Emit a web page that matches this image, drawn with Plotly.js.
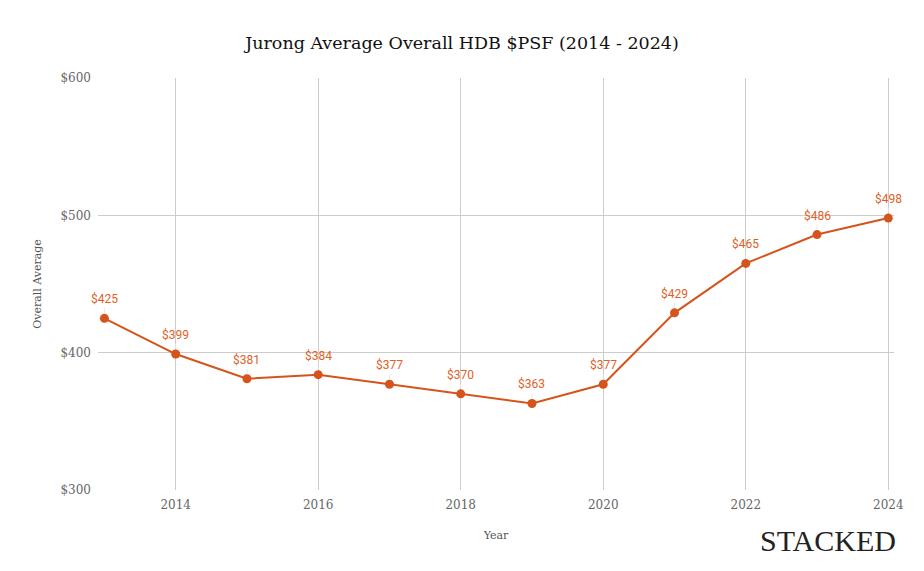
<!DOCTYPE html>
<html><head><meta charset="utf-8">
<script src="https://cdn.plot.ly/plotly-3.0.1.min.js"></script>
<style>body{margin:0;background:#fff}#c{width:924px;height:571px}</style>
</head><body><div id="c"></div>
<script>
const years = [2013,2014,2015,2016,2017,2018,2019,2020,2021,2022,2023,2024];
const psf = [425,399,381,384,377,370,363,377,429,465,486,498];
const yTicks = [300,400,500,600];
const yTickText = ['$300','$400','$500','$600'];
const xTicks = [2014,2016,2018,2020,2022,2024];

const lineColor = '#d4541c';
const tickFont = {family:'DejaVu Serif', size:12, color:'#666'};

const annotations = years.map((y,i)=>({
  x:y, y:psf[i], xref:'x', yref:'y', text:'$'+psf[i],
  showarrow:true, arrowhead:0, arrowwidth:1, arrowcolor:'#e6e6e6',
  ax:0, ay:-10, standoff:5, yanchor:'bottom',
  font:{family:'Roboto', size:12, color:'#e0621f'}
}));
annotations.push({xref:'paper', yref:'paper', x:1.005, y:-0.078, xanchor:'right', yanchor:'top',
  text:'STACKED', showarrow:false, font:{family:'Liberation Serif', size:30, color:'#222'}});

Plotly.newPlot('c',[{
  x:years, y:psf, type:'scatter', mode:'lines+markers',
  line:{color:lineColor, width:2}, marker:{color:lineColor, size:9},
  hoverinfo:'skip'
}],{
  width:924, height:571,
  margin:{l:98, r:30, t:78, b:81},
  paper_bgcolor:'#fff', plot_bgcolor:'#fff',
  title:{text:'Jurong Average Overall HDB $PSF (2014 - 2024)', x:0.5, xanchor:'center', y:0.935,
    font:{family:'DejaVu Serif', size:17.5, color:'#111'}},
  xaxis:{range:[2012.91,2024.08], tickvals:xTicks, showgrid:true, gridcolor:'#cccccc', gridwidth:1,
    zeroline:false, showline:false, ticks:'', tickfont:tickFont, ticklabelstandoff:6,
    title:{text:'Year', font:{family:'DejaVu Serif', size:11, color:'#555'}, standoff:20}},
  yaxis:{range:[300,600], tickvals:yTicks, ticktext:yTickText, showgrid:true, gridcolor:'#cccccc',
    zeroline:false, showline:false, ticks:'', tickfont:tickFont, ticklabelstandoff:6,
    title:{text:'Overall Average', font:{family:'DejaVu Serif', size:11, color:'#555'}, standoff:16}},
  annotations:annotations,
  showlegend:false
},{displayModeBar:false, staticPlot:true});
</script></body></html>
